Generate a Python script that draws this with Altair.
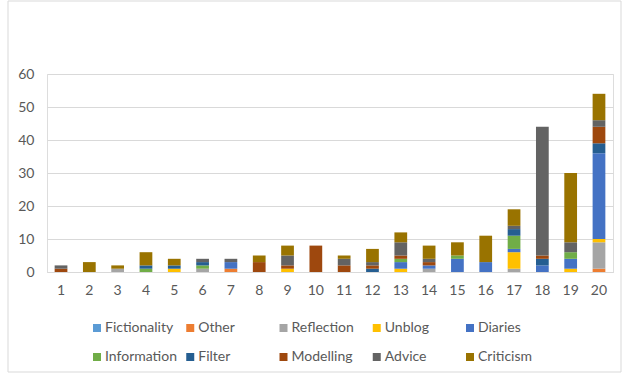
import altair as alt
import pandas as pd

categories = [str(i) for i in range(1, 21)]
series = ["Fictionality", "Other", "Reflection", "Unblog", "Diaries",
          "Information", "Filter", "Modelling", "Advice", "Criticism"]
colors = ["#5B9BD5", "#ED7D31", "#A5A5A5", "#FFC000", "#4472C4",
          "#70AD47", "#255E91", "#9E480E", "#636363", "#997300"]

fictionality = [0, 0, 0, 0, 0, 0, 0, 0, 0, 0, 0, 0, 0, 0, 0, 0, 0, 0, 0, 0]
other        = [0, 0, 0, 0, 0, 0, 1, 0, 0, 0, 0, 0, 0, 0, 0, 0, 0, 0, 0, 1]
reflection   = [0, 0, 1, 0, 0, 1, 0, 0, 0, 0, 0, 0, 0, 1, 0, 0, 1, 0, 0, 8]
unblog       = [0, 0, 0, 0, 1, 0, 0, 0, 1, 0, 0, 0, 1, 0, 0, 0, 5, 0, 1, 1]
diaries      = [0, 0, 0, 0, 0, 0, 2, 0, 0, 0, 0, 0, 2, 1, 4, 3, 1, 2, 3, 26]
information  = [0, 0, 0, 1, 0, 1, 0, 0, 0, 0, 0, 0, 1, 0, 1, 0, 4, 0, 2, 0]
filter_      = [0, 0, 0, 1, 1, 1, 0, 0, 0, 0, 0, 1, 0, 0, 0, 0, 2, 2, 0, 3]
modelling    = [1, 0, 0, 0, 0, 0, 0, 3, 1, 8, 2, 1, 1, 1, 0, 0, 0, 1, 0, 5]
advice       = [1, 0, 0, 0, 0, 1, 1, 0, 3, 0, 2, 1, 4, 1, 0, 0, 1, 39, 3, 2]
criticism    = [0, 3, 1, 4, 2, 0, 0, 2, 3, 0, 1, 4, 3, 4, 4, 8, 5, 0, 21, 8]

values = [fictionality, other, reflection, unblog, diaries,
          information, filter_, modelling, advice, criticism]

rows = []
for si, (name, vals) in enumerate(zip(series, values)):
    for cat, v in zip(categories, vals):
        if v > 0:
            rows.append({"cat": cat, "series": name, "value": v, "order": si})
df = pd.DataFrame(rows)

# legend table: 5 columns x 2 rows, filled row-wise
leg = pd.DataFrame({"series": series,
                    "col": [i % 5 for i in range(len(series))],
                    "row": [i // 5 for i in range(len(series))]})

FONT = "Lato"
GREY = "#595959"
color_scale = alt.Scale(domain=series, range=colors)

bars = alt.Chart(df).mark_bar().encode(
    x=alt.X("cat:O", sort=categories, scale=alt.Scale(domain=categories, paddingInner=0.55, paddingOuter=0.27),
            axis=alt.Axis(title=None, labelAngle=0, ticks=False, domainColor="#D9D9D9",
                          labelColor=GREY, labelFontSize=14, labelFont=FONT, labelPadding=11)),
    y=alt.Y("value:Q", stack="zero", scale=alt.Scale(domain=[0, 60], nice=False),
            axis=alt.Axis(title=None, values=[0, 10, 20, 30, 40, 50, 60], domain=False, ticks=False,
                          gridColor="#D9D9D9", labelColor=GREY, labelFontSize=14, labelFont=FONT,
                          labelPadding=13)),
    color=alt.Color("series:N", scale=color_scale, legend=None),
    order=alt.Order("order:Q", sort="ascending"),
)

lx = alt.X("col:Q", scale=alt.Scale(domain=[0, 4], range=[50, 423]), axis=None)
ly = alt.Y("row:Q", scale=alt.Scale(domain=[0, 1], range=[254, 283]), axis=None)

leg_sym = alt.Chart(leg).mark_square(size=64, opacity=1).encode(
    x=lx, y=ly, color=alt.Color("series:N", scale=color_scale, legend=None)
)
leg_txt = alt.Chart(leg).mark_text(
    align="left", baseline="middle", dx=8, fontSize=14, font=FONT, color=GREY
).encode(x=lx, y=ly, text="series:N")

border = alt.Chart(pd.DataFrame({"a": [0]})).mark_rect(
    fill=None, stroke="#D9D9D9", strokeWidth=1
).encode(
    x=alt.value(-39), x2=alt.value(574), y=alt.value(-73), y2=alt.value(298)
)

chart = alt.layer(border, bars, leg_sym, leg_txt).resolve_scale(
    x="independent", y="independent"
).properties(
    width=566, height=198,
    autosize=alt.AutoSizeParams(type="none"),
    padding={"left": 47, "top": 74, "right": 11, "bottom": 102},
).configure_view(stroke=None).configure(background="white")

chart.save("out.html", embed_options={"renderer": "svg", "actions": False})
